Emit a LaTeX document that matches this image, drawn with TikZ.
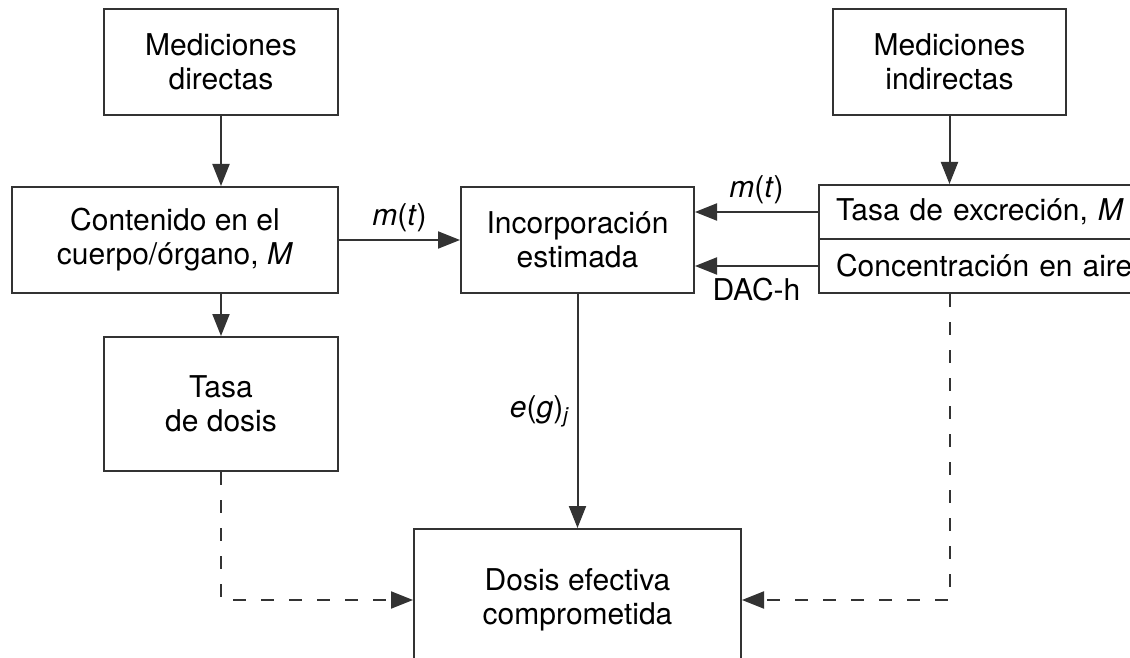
\documentclass[tikz,border=0pt]{standalone}
\usepackage{fontspec}
\setmainfont{TeX Gyre Heros}
\usetikzlibrary{arrows.meta}
\definecolor{linea}{HTML}{333333}

\begin{document}
\begin{tikzpicture}[x=0.5pt,y=-0.5pt,
    caja/.style={draw=linea,line width=1pt,rectangle,align=center,inner sep=0pt,font=\fontsize{15}{17}\selectfont},
    celda/.style={draw=linea,line width=1pt,rectangle,align=left,anchor=west,inner xsep=8.5pt,inner ysep=0pt,text width=153pt,minimum height=27pt,font=\fontsize{15}{17}\selectfont},
    flecha/.style={draw=linea,line width=1pt,-{Triangle[length=11pt,width=8.5pt]}},
    txt/.style={font=\fontsize{15}{17}\selectfont}]
                \useasboundingbox (0,0) rectangle (1130,658);
                \clip (0,0) rectangle (1130,658);
                \node[caja,minimum width=117pt,minimum height=53pt] (dir) at (221,62) {Mediciones\\directas};
                \node[caja,minimum width=163pt,minimum height=53pt] (cont) at (175,240) {Contenido en el\\cuerpo/órgano, \textit{M}};
                \node[caja,minimum width=117pt,minimum height=67pt] (tasa) at (221,404) {Tasa\\de dosis};
                \node[caja,minimum width=116.5pt,minimum height=53pt] (inc) at (577.5,240) {Incorporación\\estimada};
                \node[caja,minimum width=116.5pt,minimum height=53pt] (ind) at (949.5,62) {Mediciones\\indirectas};
                \node[celda] (exc) at (818,212) {Tasa de excreción, \textit{M}};
                \node[celda] (conc) at (818,266) {Concentración en aire};
                \node[caja,minimum width=163.5pt,minimum height=71pt] (dos) at (577.5,600) {Dosis efectiva\\comprometida};

                \draw [flecha] (dir.south) -- (dir.south |- cont.north);
                \draw [flecha] (tasa.north |- cont.south) -- (tasa.north);
                \draw [flecha] (ind.south) -- (ind.south |- exc.north);
                \draw [flecha] (cont) -- (inc) node[midway, above, txt] {\textit{m}(\textit{t})};
                \draw [flecha] (exc.west) -- (exc.west -| inc.east) node[midway, above, txt] {\textit{m}(\textit{t})};
                \draw [flecha] (conc.west) -- (conc.west -| inc.east) node[midway, below, yshift=-2pt, txt] {DAC-h};
                \draw [flecha] (inc) -- (dos) node[midway, left, txt] {\textit{e}(\textit{g})\textsubscript{\textit{j}}};
                \draw [flecha, dash pattern=on 6.5pt off 7.5pt] (tasa.south) |- (dos.west);
                \draw [flecha, dash pattern=on 6.5pt off 7.5pt] (ind.south |- conc.south) |- (dos.east);
            \end{tikzpicture}
\end{document}
